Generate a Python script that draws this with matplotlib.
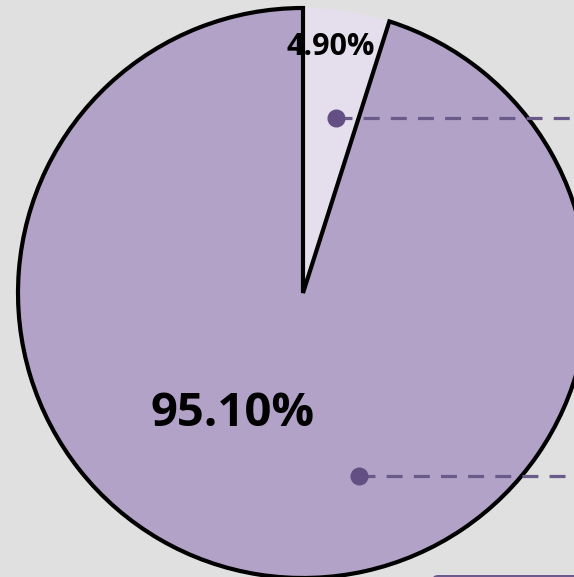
import matplotlib.pyplot as plt
from matplotlib.patches import FancyBboxPatch

shares = [4.90, 95.10]
labels = ['4.90%', '95.10%']
colors = ['#e5dfed', '#b3a2c8']

W, H = 574, 577
fig = plt.figure(figsize=(W / 100, H / 100), dpi=100)
fig.patch.set_facecolor('#e0e0e0')
ax = fig.add_axes([0, 0, 1, 1])
ax.set_facecolor('#e0e0e0')

cx, cy, r = 303, H - 293, 285
wedges, _ = ax.pie(shares, colors=colors, startangle=90, counterclock=False,
                   center=(cx, cy), radius=r, frame=True)
wedges[0].set_edgecolor('none')
wedges[1].set_edgecolor('black')
wedges[1].set_linewidth(3)

ax.text(331, H - 47, labels[0], ha='center', va='center', fontsize=22,
        fontweight='bold', family='Open Sans', color='black')
ax.text(233, H - 414, labels[1], ha='center', va='center', fontsize=34,
        fontweight='bold', family='Open Sans', color='black')

# leader lines
for x0, y0 in [(336, 118), (359, 476)]:
    ax.plot([x0, W + 5], [H - y0, H - y0], ls=(0, (5, 3.5)), lw=2.3,
            color='#6a5a8a', zorder=5)
    ax.plot(x0, H - y0, 'o', ms=12, color='#634f84', zorder=6)

# edge of a box below the crop
ax.add_patch(FancyBboxPatch((432, -20), 200, 22, boxstyle='round,pad=0,rounding_size=6',
                            fc='#6b5a8e', ec='none', zorder=4))

ax.set_xlim(0, W)
ax.set_ylim(0, H)
ax.set_aspect('equal')
ax.axis('off')

fig.savefig('out.png', dpi=100, facecolor=fig.get_facecolor())
